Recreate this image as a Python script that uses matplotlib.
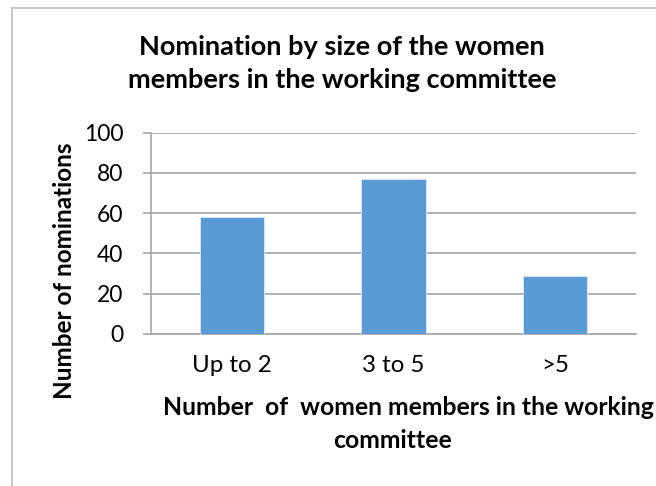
import numpy as np
import matplotlib.pyplot as plt

categories = ["Up to 2", "3 to 5", ">5"]
nominations = [58, 77, 29]
yticks = [0, 20, 40, 60, 80, 100]

plt.rcParams['font.family'] = ['Lato', 'DejaVu Sans']

fig = plt.figure(figsize=(6.56, 4.86), dpi=100)
ax = fig.add_axes([0.2302, 0.3128, 0.7393, 0.4142])

x = np.arange(len(categories))
ax.bar(x, nominations, width=0.4, color="#5B9BD5", edgecolor="#DDEBF7", linewidth=0.6, zorder=3)

ax.set_xlim(-0.5, len(categories) - 0.5)
ax.set_ylim(0, 100)
ax.set_yticks(yticks)
ax.set_xticks(x)
ax.set_xticklabels(categories)
ax.yaxis.grid(True, color="#A6A6A6", linewidth=1.2, zorder=0)
ax.set_axisbelow(True)

for s in ["top", "right"]:
    ax.spines[s].set_visible(False)
ax.spines["left"].set_color("#A6A6A6")
ax.spines["bottom"].set_color("#A6A6A6")
ax.spines["left"].set_linewidth(1.2)
ax.spines["bottom"].set_linewidth(1.2)
ax.tick_params(axis="y", length=6, color="#A6A6A6", width=1.2, labelsize=16.5, pad=14)
ax.tick_params(axis="x", length=0, labelsize=17.3, pad=15)

fig.text(0.521, 0.903, "Nomination by size of the women", ha="center", va="center",
         fontsize=19.5, fontweight="bold")
fig.text(0.521, 0.836, "members in the working committee", ha="center", va="center",
         fontsize=19.5, fontweight="bold")
fig.text(0.098, 0.442, "Number of nominations", ha="center", va="center",
         rotation=90, fontsize=17.5, fontweight="bold")
fig.text(0.623, 0.161, "Number  of  women members in the working", ha="center", va="center",
         fontsize=17.8, fontweight="bold")
fig.text(0.599, 0.093, "committee", ha="center", va="center",
         fontsize=17.8, fontweight="bold")

# chart border
fig.add_artist(plt.Line2D([12/656, 12/656], [0, 1 - 8/486], color="#BFBFBF", linewidth=1.2))
fig.add_artist(plt.Line2D([12/656, 1], [1 - 8/486, 1 - 8/486], color="#BFBFBF", linewidth=1.2))

fig.savefig("out.png", dpi=100)
